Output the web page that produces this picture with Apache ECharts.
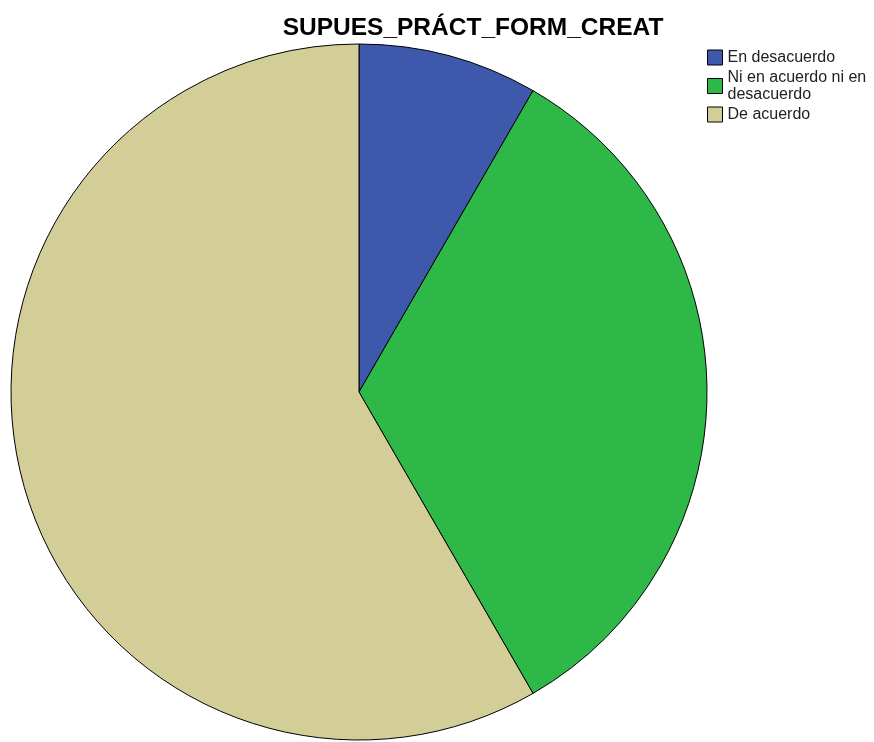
<!DOCTYPE html>
<html><head><meta charset="utf-8">
<script src="https://cdn.jsdelivr.net/npm/echarts@6/dist/echarts.min.js"></script>
<style>html,body{margin:0;padding:0;background:#fff}#c{width:874px;height:742px}</style>
</head><body><div id="c"></div>
<script>
const titleText = 'SUPUES_PRÁCT_FORM_CREAT';
const categories = ['En desacuerdo', 'Ni en acuerdo ni en desacuerdo', 'De acuerdo'];
const values = [3, 12, 21];
const colors = ['#3E58AC', '#2EB848', '#D3CE97'];

const chart = echarts.init(document.getElementById('c'));
chart.setOption({
  animation: false,
  title: {
    text: titleText, left: 468, top: 11, textAlign: 'center',
    textStyle: {fontFamily: 'Liberation Sans, Arial, sans-serif', fontSize: 24.5, fontWeight: 'bold', color: '#000'}
  },
  legend: {
    orient: 'vertical', left: 707, top: 49,
    padding: 0,
    itemWidth: 15, itemHeight: 15, itemGap: 3,
    icon: 'rect',
    itemStyle: {borderColor: '#000', borderWidth: 1},
    formatter: n => n === 'Ni en acuerdo ni en desacuerdo' ? 'Ni en acuerdo ni en\ndesacuerdo' : n,
    textStyle: {fontFamily: 'Liberation Sans, Arial, sans-serif', fontSize: 16, color: '#222', lineHeight: 17},
    data: categories
  },
  series: [{
    type: 'pie',
    center: [359, 392],
    radius: [0, 348],
    startAngle: 90,
    clockwise: true,
    label: {show: false}, labelLine: {show: false},
    emphasis: {disabled: true},
    itemStyle: {borderColor: '#000', borderWidth: 1},
    data: categories.map((c, i) => ({name: c, value: values[i], itemStyle: {color: colors[i]}}))
  }]
});
</script></body></html>
